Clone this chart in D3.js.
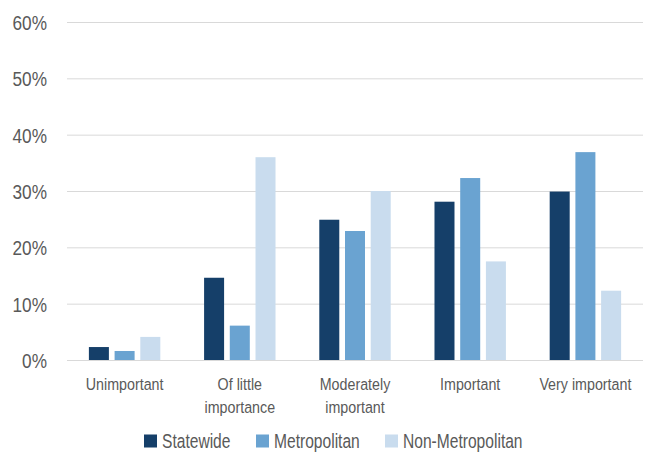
<!DOCTYPE html>
<html>
<head>
<meta charset="utf-8">
<script src="https://cdn.jsdelivr.net/npm/d3@7"></script>
<style>
  html, body { margin: 0; padding: 0; background: #fff; }
  svg { display: block; font-family: "Liberation Sans", Arial, sans-serif; }
</style>
</head>
<body>
<svg id="chart" width="645" height="452"></svg>
<script>
// Survey responses by importance rating, share of respondents (%)
const categories = ["Unimportant", "Of little importance", "Moderately important", "Important", "Very important"];
const categoryLines = [["Unimportant"], ["Of little", "importance"], ["Moderately", "important"], ["Important"], ["Very important"]];
const seriesNames = ["Statewide", "Metropolitan", "Non-Metropolitan"];
const statewide = [2.3, 14.6, 24.9, 28.1, 29.9];
const metropolitan = [1.6, 6.1, 22.9, 32.3, 36.9];
const nonMetropolitan = [4.1, 36.0, 30.0, 17.5, 12.3];
const yTicks = [0, 10, 20, 30, 40, 50, 60];
const colors = ["#153f69", "#6aa3d1", "#c9dcee"];

const seriesValues = [statewide, metropolitan, nonMetropolitan];
const rows = categories.map((c, i) => ({
  category: c,
  values: seriesNames.map((s, j) => ({ series: s, value: seriesValues[j][i] }))
}));

// horizontal squeeze giving the labels a condensed look
const squeeze = 0.84;
const legendSqueeze = 0.8;
const textColor = "#595959";

const svg = d3.select("#chart");
const margin = { top: 22, right: 2, bottom: 92, left: 67 };
const width = 645 - margin.left - margin.right;
const height = 452 - margin.top - margin.bottom;

const g = svg.append("g").attr("transform", `translate(${margin.left},${margin.top})`);

const x0 = d3.scaleBand().domain(categories).range([0, width]).paddingInner(0.38).paddingOuter(0.19);
const x1 = d3.scaleBand().domain(seriesNames).range([0, x0.bandwidth()]).paddingInner(0.222);
const y = d3.scaleLinear().domain([0, 60]).range([height, 0]);
const color = d3.scaleOrdinal().domain(seriesNames).range(colors);

// y axis with gridlines
const yAxis = g.append("g")
  .call(d3.axisLeft(y).tickValues(yTicks).tickSize(-width).tickPadding(20).tickFormat(d => d + "%"));
yAxis.select(".domain").remove();
yAxis.selectAll(".tick line").attr("stroke", "#d9d9d9").attr("stroke-width", 1);
yAxis.selectAll(".tick text")
  .attr("fill", textColor)
  .style("font-size", "20.5px")
  .attr("x", -20 / squeeze)
  .attr("transform", `scale(${squeeze},1)`)
  .attr("dy", "0.36em");

// bars
g.append("g").selectAll("g")
  .data(rows)
  .join("g")
  .attr("transform", d => `translate(${x0(d.category)},0)`)
  .selectAll("rect")
  .data(d => d.values)
  .join("rect")
  .attr("x", d => x1(d.series))
  .attr("y", d => y(d.value))
  .attr("width", x1.bandwidth())
  .attr("height", d => y(0) - y(d.value))
  .attr("fill", d => color(d.series));

// x axis category labels
const xAxis = g.append("g")
  .attr("transform", `translate(0,${height})`)
  .call(d3.axisBottom(x0).tickSize(0).tickFormat(""));
xAxis.select(".domain").remove();
xAxis.selectAll(".tick").each(function(d, i) {
  const t = d3.select(this).append("text")
    .attr("fill", textColor)
    .attr("text-anchor", "middle")
    .attr("transform", `scale(${squeeze},1)`)
    .style("font-size", "17px")
    .attr("y", 30);
  categoryLines[i].forEach((line, k) => {
    t.append("tspan").attr("x", 0).attr("dy", k === 0 ? 0 : 23).text(line);
  });
});

// legend
const legendX = [144, 256, 385];
const legend = svg.append("g").attr("transform", "translate(0,441)");
seriesNames.forEach((s, i) => {
  const item = legend.append("g").attr("transform", `translate(${legendX[i]},0)`);
  item.append("rect").attr("x", 0).attr("y", -6.5).attr("width", 13).attr("height", 13).attr("fill", color(s));
  item.append("g").attr("transform", `translate(18,0) scale(${legendSqueeze},1)`)
    .append("text")
    .attr("dy", "0.36em")
    .attr("fill", textColor)
    .style("font-size", "19.5px")
    .text(s);
});
</script>
</body>
</html>
